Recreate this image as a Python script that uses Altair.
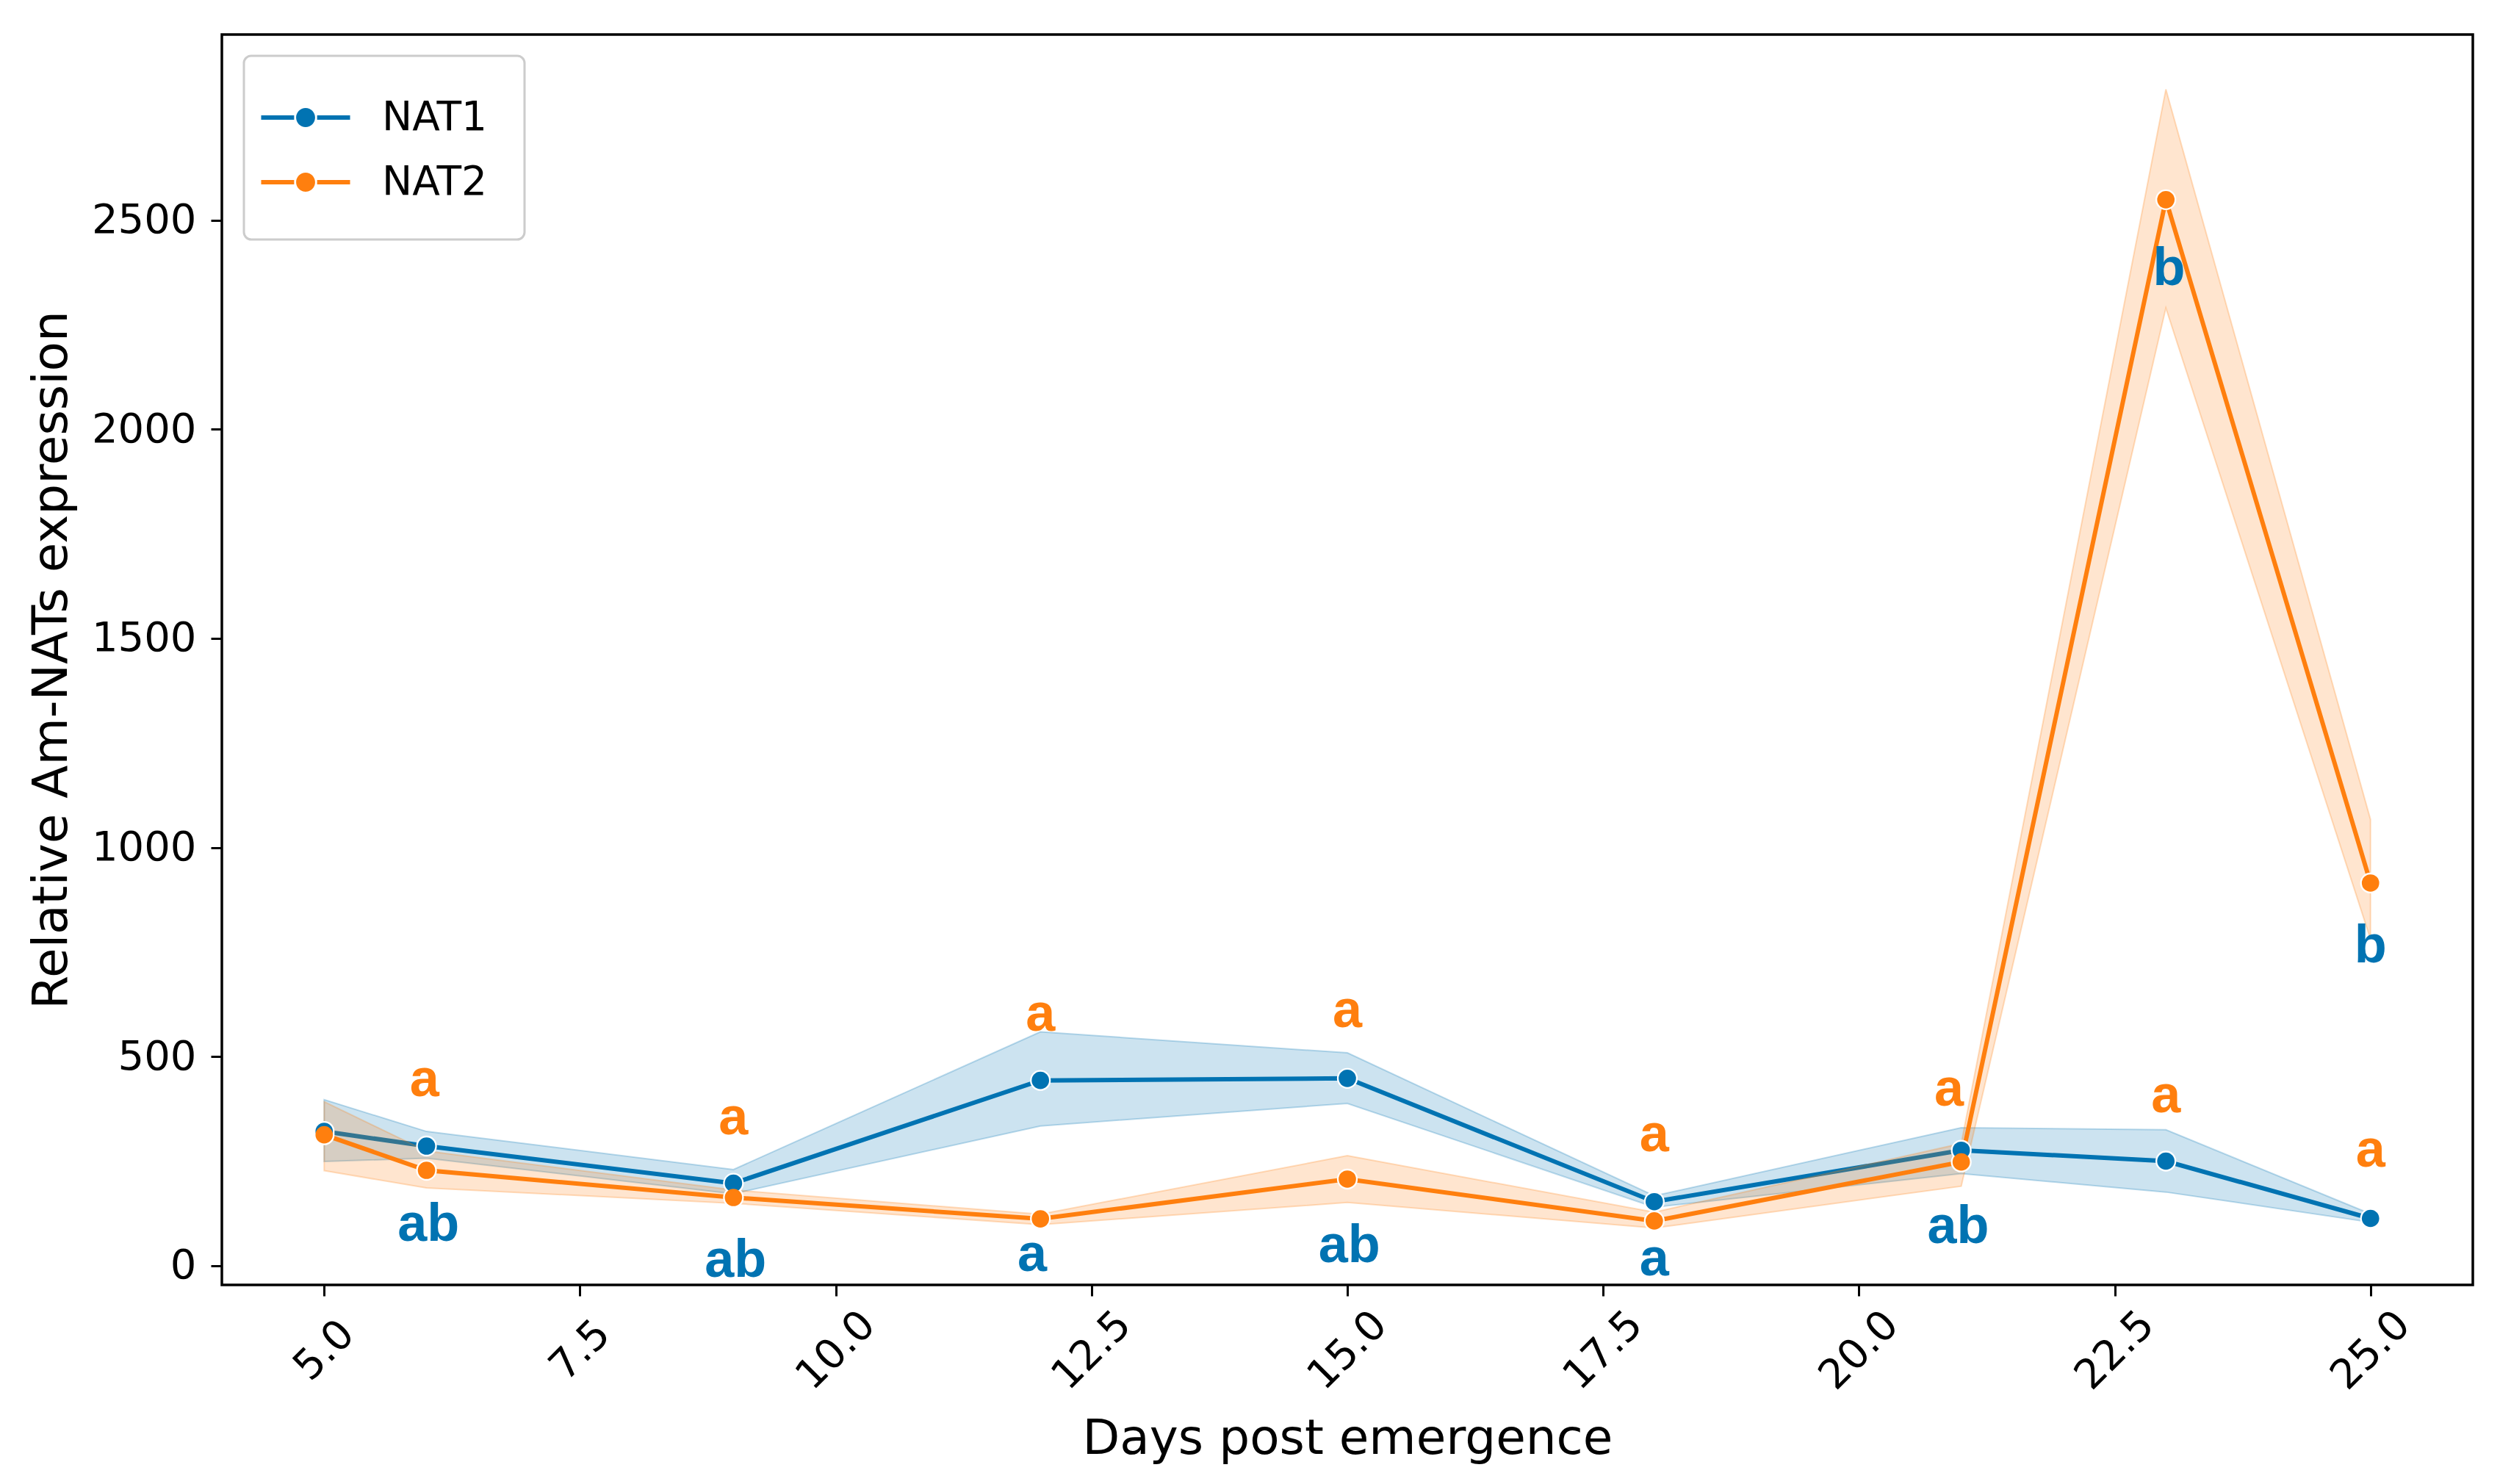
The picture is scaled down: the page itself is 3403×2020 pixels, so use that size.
import altair as alt
import pandas as pd

# ---- data ----
days = [5, 6, 9, 12, 15, 18, 21, 23, 25]
nat1_mean = [321, 286, 197, 443, 448, 153, 276, 250, 113]
nat1_lo = [249, 257, 172, 334, 388, 140, 220, 176, 104]
nat1_hi = [397, 321, 230, 559, 509, 167, 330, 325, 124]
nat2_mean = [313, 228, 163, 112, 207, 107, 248, 2549, 915]
nat2_lo = [227, 186, 149, 98, 151, 90, 190, 2290, 781]
nat2_hi = [392, 274, 181, 123, 263, 128, 292, 2813, 1067]

nat2_letters = ["a", "a", "a", "a", "a", "a", "a", "a"]
nat2_letter_day = [5.98, 9.0, 12.0, 15.0, 18.0, 20.88, 23.0, 25.0]
nat2_letter_val = [406, 315, 561, 570, 274, 382, 367, 236]
nat1_letters = ["ab", "ab", "a", "ab", "a", "ab", "b", "b"]
nat1_letter_day = [6.02, 9.02, 11.92, 15.02, 18.0, 20.97, 23.03, 25.0]
nat1_letter_val = [60, -26, -12, 8, -24, 55, 2345, 725]

x_ticks = [5.0, 7.5, 10.0, 12.5, 15.0, 17.5, 20.0, 22.5, 25.0]
y_ticks = [0, 500, 1000, 1500, 2000, 2500]

BLUE = "#0173b2"
ORANGE = "#ff7f0e"

rows = []
for i, d in enumerate(days):
    rows.append({"day": d, "series": "NAT1", "value": nat1_mean[i], "lo": nat1_lo[i], "hi": nat1_hi[i]})
for i, d in enumerate(days):
    rows.append({"day": d, "series": "NAT2", "value": nat2_mean[i], "lo": nat2_lo[i], "hi": nat2_hi[i]})
df = pd.DataFrame(rows)

df_l2 = pd.DataFrame({"day": nat2_letter_day, "value": nat2_letter_val, "label": nat2_letters})
df_l1 = pd.DataFrame({"day": nat1_letter_day, "value": nat1_letter_val, "label": nat1_letters})

XT = "Days post emergence"
YT = "Relative Am-NATs expression"
xscale = alt.Scale(domain=[4, 26], nice=False, zero=False)
yscale = alt.Scale(domain=[-46, 2944], nice=False, zero=False)
cscale = alt.Scale(domain=["NAT1", "NAT2"], range=[BLUE, ORANGE])

xaxis = alt.Axis(values=x_ticks, format=".1f", labelAngle=-45, labelAlign="center",
                 labelBaseline="middle", labelPadding=74, titlePadding=25,
                 labelOverlap=False, labelFlush=False)
yaxis = alt.Axis(values=y_ticks, format="d", labelPadding=20, titlePadding=20,
                 labelOverlap=False, labelFlush=False)


def X(field="day"):
    return alt.X(f"{field}:Q", scale=xscale, axis=xaxis, title=XT)


def Y(field="value"):
    return alt.Y(f"{field}:Q", scale=yscale, axis=yaxis, title=YT)


LEG_PATH = ("M-1.78,-0.09H-0.46V0.09H-1.78Z "
            "M0.46,-0.09H1.78V0.09H0.46Z "
            "M-0.38,0A0.38,0.38,0,1,1,0.38,0A0.38,0.38,0,1,1,-0.38,0Z")

legend = alt.Legend(title=None, orient="none", legendX=30, legendY=29,
                    symbolType=LEG_PATH, symbolSize=4624, symbolStrokeWidth=0,
                    symbolOpacity=1, labelFont="DejaVu Sans", labelFontSize=55,
                    labelColor="black", labelOffset=70, padding=50, rowPadding=26,
                    fillColor="white", strokeColor="#cccccc", cornerRadius=10)

base = alt.Chart(df)


def series_layers(name, colour):
    sub = base.transform_filter(alt.datum.series == name)
    band = sub.mark_area(color=colour, fillOpacity=0.2, stroke=colour,
                         strokeOpacity=0.25, strokeWidth=2).encode(
        x=X(), y=Y("lo"), y2="hi:Q")
    line = sub.mark_line(color=colour, strokeWidth=6).encode(x=X(), y=Y())
    return [band, line]


ring = base.mark_circle(size=800, color="white", opacity=1).encode(
    x=X(), y=Y(), detail="series:N"
)

pts = base.mark_circle(size=560, opacity=1).encode(
    x=X(), y=Y(),
    color=alt.Color("series:N", scale=cscale, legend=legend),
)

txt2 = alt.Chart(df_l2).mark_text(font="Liberation Sans", fontWeight="bold", fontSize=72,
                                  align="center", baseline="alphabetic", color=ORANGE).encode(
    x=X(), y=Y(), text="label:N"
)
txt1 = alt.Chart(df_l1).mark_text(font="Liberation Sans", fontWeight="bold", fontSize=72,
                                  align="center", baseline="alphabetic", color=BLUE).encode(
    x=X(), y=Y(), text="label:N"
)

layers = series_layers("NAT1", BLUE) + series_layers("NAT2", ORANGE) + [ring, pts, txt2, txt1]

chart = alt.layer(*layers).properties(
    width=3064, height=1702,
    autosize=alt.AutoSizeParams(type="none"),
    padding={"left": 294, "top": 39, "right": 29, "bottom": 263},
    background="white",
).configure_view(
    stroke="black", strokeWidth=3.5
).configure_axis(
    labelFont="DejaVu Sans", labelFontSize=56, labelColor="black",
    titleFont="DejaVu Sans", titleFontSize=66, titleColor="black", titleFontWeight="normal",
    tickSize=15, tickWidth=3, tickColor="black", domain=False, grid=False,
).configure_legend(strokeWidth=3)

chart.save("out.html", embed_options={"renderer": "svg", "actions": False})
